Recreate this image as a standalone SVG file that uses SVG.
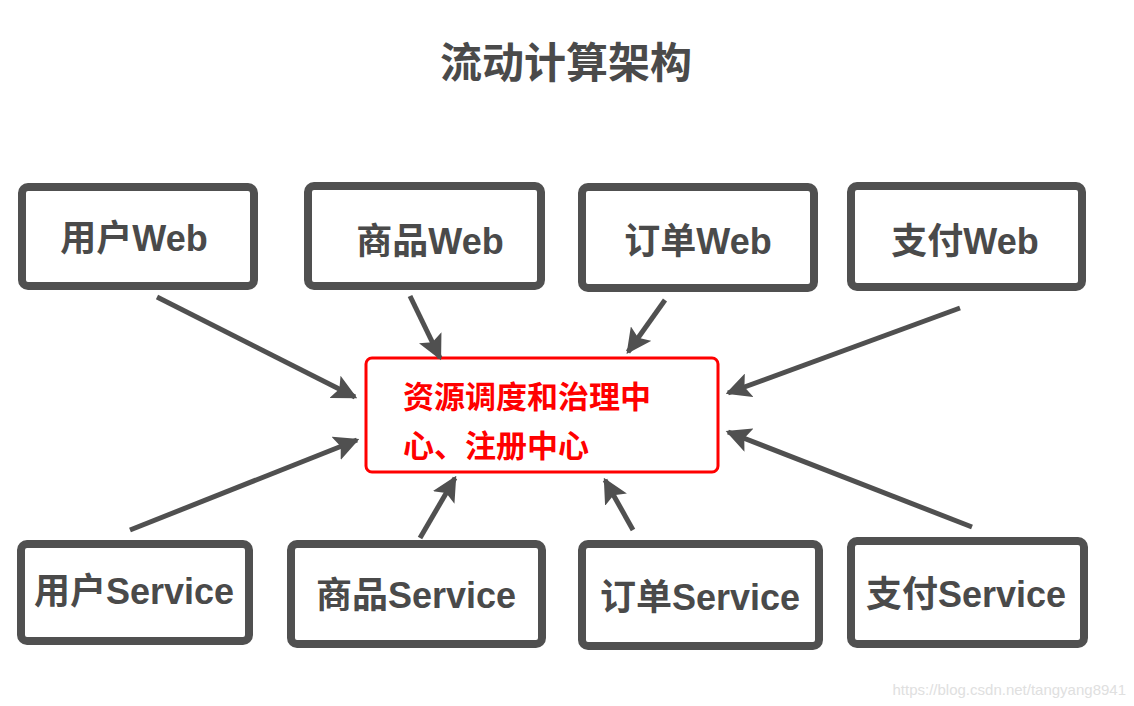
<svg xmlns="http://www.w3.org/2000/svg" width="1134" height="706" viewBox="0 0 1134 706">
<style>
.box{fill:#fff;stroke:#505050;stroke-width:8}
.lbl{font-family:"Liberation Sans","Noto Sans CJK SC",sans-serif;font-weight:bold;font-size:36px;fill:#4a4a4a;stroke:#fff;stroke-width:3;paint-order:stroke;text-anchor:middle}
.c{font-family:"Liberation Sans","Noto Sans CJK SC",sans-serif;font-weight:bold;font-size:31px;fill:#f00;stroke:#fff;stroke-width:2;paint-order:stroke}
.ar{stroke:#505050;stroke-width:5;fill:none;marker-end:url(#ah)}
</style>
<defs>
<marker id="ah" viewBox="0 0 10 10" refX="9" refY="5" markerWidth="5" markerHeight="5" orient="auto"><path d="M0,0L10,5L0,10L2,5Z" fill="#505050"/></marker>
</defs>
<rect width="1134" height="706" fill="#fff"/>
<text x="566" y="78" class="lbl" style="font-size:42px">流动计算架构</text>
<g id="n1"><rect class="box" x="22" y="187" width="232" height="99" rx="6"/><text class="lbl" x="134" y="251">用户Web</text></g>
<g id="n2"><rect class="box" x="308" y="186" width="233" height="100" rx="6"/><text class="lbl" x="430" y="254">商品Web</text></g>
<g id="n3"><rect class="box" x="582" y="187" width="232" height="101" rx="6"/><text class="lbl" x="698" y="254">订单Web</text></g>
<g id="n4"><rect class="box" x="851" y="186" width="231" height="101" rx="6"/><text class="lbl" x="965" y="254">支付Web</text></g>
<g id="n5"><rect class="box" x="21" y="544" width="228" height="97" rx="6"/><text class="lbl" x="134" y="604">用户Service</text></g>
<g id="n6"><rect class="box" x="291" y="544" width="251" height="100" rx="6"/><text class="lbl" x="416" y="608">商品Service</text></g>
<g id="n7"><rect class="box" x="582" y="544" width="237" height="102" rx="6"/><text class="lbl" x="700" y="610">订单Service</text></g>
<g id="n8"><rect class="box" x="851" y="541" width="233" height="103" rx="6"/><text class="lbl" x="966" y="607">支付Service</text></g>
<g id="center"><rect x="366" y="358" width="352" height="114" rx="6" fill="#fff" stroke="#f00" stroke-width="3"/>
<text class="c" x="403" y="408">资源调度和治理中</text><text class="c" x="403" y="457">心、注册中心</text></g>
<g id="connectors">
<line class="ar" x1="157" y1="297" x2="355" y2="397"/>
<line class="ar" x1="410" y1="296" x2="440" y2="358"/>
<line class="ar" x1="665" y1="300" x2="628" y2="352"/>
<line class="ar" x1="960" y1="308" x2="728" y2="393"/>
<line class="ar" x1="130" y1="530" x2="357" y2="440"/>
<line class="ar" x1="420" y1="538" x2="455" y2="478"/>
<line class="ar" x1="633" y1="530" x2="605" y2="480"/>
<line class="ar" x1="972" y1="527" x2="728" y2="432"/>
</g>
<text x="1126" y="695" style="font-family:'Liberation Sans',sans-serif;font-size:15px;fill:#e0e0e0;text-anchor:end">https://blog.csdn.net/tangyang8941</text>
</svg>
